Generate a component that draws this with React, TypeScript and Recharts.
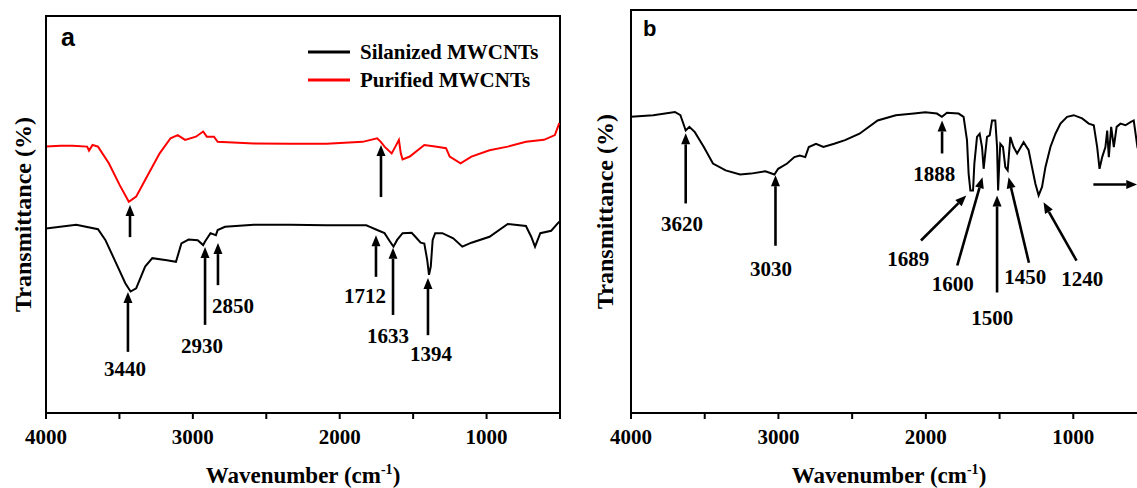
import React from 'react';
import {
  LineChart,
  Line,
  XAxis,
  YAxis,
  ReferenceArea,
  ReferenceLine,
  ReferenceDot,
  Legend,
} from 'recharts';

const SERIF = '"Liberation Serif", "Times New Roman", serif';
const SANS = '"Liberation Sans", Arial, sans-serif';

// ---------- axis ticks ----------
const xTicks = [4000, 3500, 3000, 2500, 2000, 1500, 1000, 500];
const xDomain = [500, 4000];
const yDomain = [0, 100];

// ---------- panel a : Silanized MWCNTs (black) ----------
const silanizedWn = [
  4000, 3794, 3646, 3596, 3522, 3460, 3424, 3386, 3325, 3276, 3177, 3115, 3078, 3029, 2967, 2930,
  2917, 2880, 2843, 2831, 2781, 2585, 2337, 2090, 1819, 1794, 1745, 1695, 1658, 1634, 1609, 1572,
  1510, 1485, 1449, 1424, 1404, 1392, 1380, 1367, 1350, 1301, 1227, 1165, 1103, 980, 856, 732, 696,
  670, 634, 560, 505,
];
const silanizedT = [
  46.5, 47.4, 46.3, 43.6, 37.7, 32.7, 30.6, 31.4, 36.9, 39.0, 38.5, 38.1, 42.7, 43.7, 43.5, 42.3,
  43.2, 45.3, 44.8, 46.1, 46.9, 47.4, 47.4, 47.3, 47.3, 46.9, 46.1, 45.3, 43.2, 41.9, 43.6, 45.3,
  45.4, 44.4, 42.9, 42.7, 38.5, 34.8, 36.9, 43.6, 45.3, 45.3, 44.0, 41.9, 42.9, 44.4, 47.6, 47.1, 44.4,
  41.9, 45.3, 45.9, 48.2,
];

// ---------- panel a : Purified MWCNTs (red) ----------
const purifiedWn = [
  4000, 3900, 3819, 3720, 3707, 3683, 3646, 3572, 3498, 3436, 3386, 3325, 3226, 3152, 3103, 3053,
  2979, 2930, 2905, 2856, 2831, 2585, 2337, 2090, 1844, 1745, 1720, 1695, 1646, 1621, 1597, 1584,
  1572, 1523, 1424, 1350, 1276, 1251, 1177, 1103, 980, 856, 732, 609, 535, 505,
];
const purifiedT = [
  67.1, 67.3, 67.3, 67.1, 66.1, 67.5, 67.1, 62.9, 57.4, 53.2, 54.5, 58.7, 65.4, 69.2, 70.0, 68.8,
  69.6, 70.9, 69.6, 69.6, 68.3, 67.9, 67.8, 67.8, 68.3, 69.2, 68.3, 67.1, 65.4, 67.1, 68.8, 65.4,
  63.9, 64.6, 67.5, 67.1, 66.7, 64.6, 62.9, 64.6, 66.2, 67.1, 68.3, 68.8, 70.0, 73.0,
];

// ---------- panel b : spectrum ----------
const panelBWn = [
  4000, 3849, 3702, 3665, 3641, 3629, 3604, 3567, 3506, 3444, 3358, 3260, 3187, 3088, 3027, 3002,
  2941, 2892, 2855, 2818, 2794, 2745, 2695, 2622, 2548, 2450, 2327, 2204, 2081, 2004, 1925, 1891,
  1857, 1778, 1744, 1721, 1710, 1698, 1680, 1671, 1653, 1635, 1619, 1608, 1597, 1585, 1567, 1551,
  1529, 1517, 1510, 1502, 1495, 1477, 1461, 1445, 1427, 1405, 1381, 1337, 1303, 1280, 1257, 1235,
  1212, 1189, 1155, 1121, 1087, 1042, 997, 940, 895, 861, 838, 822, 804, 782, 770, 759, 743, 725,
  706, 680, 646, 612, 590, 565, 540, 520, 500,
];
const panelBT = [
  73.5, 73.9, 74.7, 73.9, 71.4, 70.1, 71.0, 69.7, 66.0, 61.9, 60.2, 59.2, 59.4, 60.0, 59.2, 60.6,
  61.9, 63.5, 63.9, 63.5, 66.0, 66.8, 66.0, 66.8, 67.7, 69.3, 72.6, 73.9, 74.3, 74.6, 74.3, 73.5,
  74.5, 74.3, 73.5, 67.7, 59.4, 55.2, 55.2, 61.9, 68.5, 69.3, 66.0, 60.6, 64.4, 68.5, 68.9, 72.6,
  72.6, 66.0, 55.2, 61.9, 66.8, 66.0, 61.0, 60.2, 68.5, 66.0, 64.4, 67.2, 65.2, 61.0, 56.9, 54.0,
  56.1, 61.0, 66.0, 69.3, 71.8, 73.5, 73.9, 73.1, 71.8, 71.4, 66.0, 60.6, 63.5, 66.0, 70.1, 63.5, 71.0, 66.0,
  71.0, 71.8, 71.4, 72.2, 72.6, 66.0, 63.0, 70.0, 71.0,
];

// ---------- annotations (tail -> tip, in wavenumber / transmittance units) ----------
const panelAArrowTailWn = [3428, 1719, 3442, 2917, 2829, 1753, 1637, 1399];
const panelAArrowTailT = [44.3, 54.4, 15.4, 22.2, 32.2, 34.3, 24.7, 19.6];
const panelAArrowTipWn = [3428, 1719, 3442, 2917, 2829, 1753, 1637, 1399];
const panelAArrowTipT = [52.4, 67.5, 30.5, 41.8, 42.8, 44.8, 41.6, 34.0];

const panelALabels = ['3440', '2930', '2850', '1712', '1633', '1394'];
const panelALabelWn = [3462, 2938, 2727, 1828, 1671, 1378];
const panelALabelT = [11.3, 17.1, 27.2, 29.7, 19.6, 14.9];

const panelBArrowTailWn = [3629, 3020, 1890, 2033, 1787, 1517, 1301, 978, 864];
const panelBArrowTailT = [52.0, 41.5, 64.4, 42.8, 36.6, 29.9, 37.3, 37.8, 56.7];
const panelBArrowTipWn = [3629, 3020, 1890, 1726, 1616, 1517, 1439, 1202, 566];
const panelBArrowTipT = [69.4, 59.0, 72.6, 54.0, 58.5, 54.0, 58.5, 52.3, 56.7];

const panelBLabels = ['3620', '3030', '1888', '1689', '1600', '1500', '1450', '1240'];
const panelBLabelWn = [3654, 3050, 1943, 2120, 1817, 1550, 1326, 940];
const panelBLabelT = [47.0, 35.8, 59.5, 38.3, 32.1, 23.6, 33.8, 33.3];

const seriesNames = ['Silanized MWCNTs', 'Purified MWCNTs'];
const seriesColors = ['#000000', '#ff0000'];

const zip = (wn: number[], t: number[]) => wn.map((w, i) => ({ wn: w, t: t[i] }));

const silanizedData = zip(silanizedWn, silanizedT);
const purifiedData = zip(purifiedWn, purifiedT);
const panelBData = zip(panelBWn, panelBT);

// ---------- render helpers ----------
const ArrowShape = (p: any) => {
  const { x1, y1, x2, y2 } = p;
  const dx = x2 - x1;
  const dy = y2 - y1;
  const len = Math.hypot(dx, dy) || 1;
  const ux = dx / len;
  const uy = dy / len;
  const hl = 11;
  const hw = 4.5;
  const bx = x2 - ux * hl;
  const by = y2 - uy * hl;
  const px = -uy;
  const py = ux;
  return (
    <g>
      <line x1={x1} y1={y1} x2={bx} y2={by} stroke="#000" strokeWidth={2.6} />
      <polygon
        points={`${x2},${y2} ${bx + px * hw},${by + py * hw} ${bx - px * hw},${by - py * hw}`}
        fill="#000"
      />
    </g>
  );
};

const labelShape = (text: string) => (p: any) => (
  <text
    x={p.cx}
    y={p.cy}
    dy="0.36em"
    textAnchor="middle"
    fontFamily={SERIF}
    fontWeight="bold"
    fontSize={21}
    fill="#000"
  >
    {text}
  </text>
);

const yTitle = (offsetX: number) => (props: any) => {
  const vb = props.viewBox || {};
  const x = (vb.x || 0) + offsetX;
  const y = (vb.y || 0) + (vb.height || 0) / 2;
  return (
    <text
      x={x}
      y={y}
      transform={`rotate(-90 ${x} ${y})`}
      textAnchor="middle"
      dominantBaseline="central"
      fontFamily={SERIF}
      fontWeight="bold"
      fontSize={24}
      fill="#000"
    >
      Transmittance (%)
    </text>
  );
};

const xTitle = (props: any) => {
  const vb = props.viewBox || {};
  const x = (vb.x || 0) + (vb.width || 0) / 2;
  const y = (vb.y || 0) + 70;
  return (
    <text x={x} y={y} textAnchor="middle" fontFamily={SERIF} fontWeight="bold" fontSize={23} fill="#000">
      <tspan>Wavenumber (cm</tspan>
      <tspan dy={-9} fontSize={14}>
        -1
      </tspan>
      <tspan dy={9}>)</tspan>
    </text>
  );
};

const tickFmt = (v: number) => (v % 1000 === 0 ? String(v) : '');

const renderLegend = (props: any) => {
  const payload = props.payload || [];
  const ordered = seriesNames
    .map((n) => payload.find((p: any) => p.value === n))
    .filter(Boolean);
  return (
    <div>
      {ordered.map((p: any) => (
        <div
          key={p.value}
          style={{ display: 'flex', alignItems: 'center', height: 28, whiteSpace: 'nowrap' }}
        >
          <svg width={42} height={6} style={{ marginRight: 10 }}>
            <line x1={0} y1={3} x2={42} y2={3} stroke={p.color} strokeWidth={3} />
          </svg>
          <span
            style={{
              fontFamily: SERIF,
              fontWeight: 'bold',
              fontSize: 21,
              lineHeight: '28px',
              color: '#000',
            }}
          >
            {p.value}
          </span>
        </div>
      ))}
    </div>
  );
};

const axisCommon = {
  type: 'number' as const,
  dataKey: 'wn',
  domain: xDomain,
  reversed: true,
  ticks: xTicks,
  interval: 0 as const,
  tickFormatter: tickFmt,
  tickSize: 6,
  tickMargin: 10,
  height: 75,
  allowDataOverflow: true,
  axisLine: { stroke: '#000', strokeWidth: 2 },
  tickLine: { stroke: '#000', strokeWidth: 2 },
  tick: { fill: '#000', fontFamily: SERIF, fontWeight: 'bold', fontSize: 21 },
};

export default function App() {
  return (
    <div
      style={{
        position: 'fixed',
        left: 0,
        top: 0,
        width: 1137,
        height: 488,
        overflow: 'hidden',
        background: '#ffffff',
      }}
    >
      {/* Panel a */}
      <div style={{ position: 'absolute', left: 0, top: 0 }}>
        <LineChart width={570} height={488} margin={{ top: 16, right: 10, bottom: 0, left: 0 }}>
          <XAxis {...axisCommon} label={xTitle} />
          <YAxis
            type="number"
            domain={yDomain}
            width={46}
            tick={false}
            tickLine={false}
            axisLine={{ stroke: '#000', strokeWidth: 2 }}
            label={yTitle(23)}
          />
          <ReferenceArea
            x1={4000}
            x2={500}
            y1={0}
            y2={100}
            fill="none"
            fillOpacity={0}
            stroke="#000"
            strokeWidth={2}
            ifOverflow="visible"
          />
          <Line
            data={silanizedData}
            dataKey="t"
            name={seriesNames[0]}
            stroke={seriesColors[0]}
            strokeWidth={2}
            dot={false}
            type="linear"
            isAnimationActive={false}
          />
          <Line
            data={purifiedData}
            dataKey="t"
            name={seriesNames[1]}
            stroke={seriesColors[1]}
            strokeWidth={2}
            dot={false}
            type="linear"
            isAnimationActive={false}
          />
          {panelAArrowTailWn.map((w, i) => (
            <ReferenceLine
              key={`aa${i}`}
              segment={[
                { x: w, y: panelAArrowTailT[i] },
                { x: panelAArrowTipWn[i], y: panelAArrowTipT[i] },
              ]}
              shape={ArrowShape}
              ifOverflow="visible"
            />
          ))}
          {panelALabels.map((t, i) => (
            <ReferenceDot
              key={`al${i}`}
              x={panelALabelWn[i]}
              y={panelALabelT[i]}
              r={0}
              shape={labelShape(t)}
              ifOverflow="visible"
            />
          ))}
          <Legend
            layout="vertical"
            align="center"
            verticalAlign="middle"
            content={renderLegend}
            wrapperStyle={{ position: 'absolute', left: 308, top: 38, width: 260 }}
          />
        </LineChart>
      </div>

      {/* Panel b */}
      <div style={{ position: 'absolute', left: 575, top: 0 }}>
        <LineChart width={582} height={488} margin={{ top: 10, right: 10, bottom: 0, left: 0 }}>
          <XAxis {...axisCommon} label={xTitle} />
          <YAxis
            type="number"
            domain={yDomain}
            width={56}
            tick={false}
            tickLine={false}
            axisLine={{ stroke: '#000', strokeWidth: 2 }}
            label={yTitle(30)}
          />
          <ReferenceArea
            x1={4000}
            x2={500}
            y1={0}
            y2={100}
            fill="none"
            fillOpacity={0}
            stroke="#000"
            strokeWidth={2}
            ifOverflow="visible"
          />
          <Line
            data={panelBData}
            dataKey="t"
            stroke="#000"
            strokeWidth={2}
            dot={false}
            type="linear"
            isAnimationActive={false}
          />
          {panelBArrowTailWn.map((w, i) => (
            <ReferenceLine
              key={`ba${i}`}
              segment={[
                { x: w, y: panelBArrowTailT[i] },
                { x: panelBArrowTipWn[i], y: panelBArrowTipT[i] },
              ]}
              shape={ArrowShape}
              ifOverflow="visible"
            />
          ))}
          {panelBLabels.map((t, i) => (
            <ReferenceDot
              key={`bl${i}`}
              x={panelBLabelWn[i]}
              y={panelBLabelT[i]}
              r={0}
              shape={labelShape(t)}
              ifOverflow="visible"
            />
          ))}
        </LineChart>
      </div>

      {/* panel letters */}
      <svg
        width={1137}
        height={488}
        style={{ position: 'absolute', left: 0, top: 0, pointerEvents: 'none' }}
      >
        <text x={61} y={46} fontFamily={SANS} fontWeight="bold" fontSize={25} fill="#000">
          a
        </text>
        <text x={643} y={36} fontFamily={SANS} fontWeight="bold" fontSize={22} fill="#000">
          b
        </text>
      </svg>
    </div>
  );
}
